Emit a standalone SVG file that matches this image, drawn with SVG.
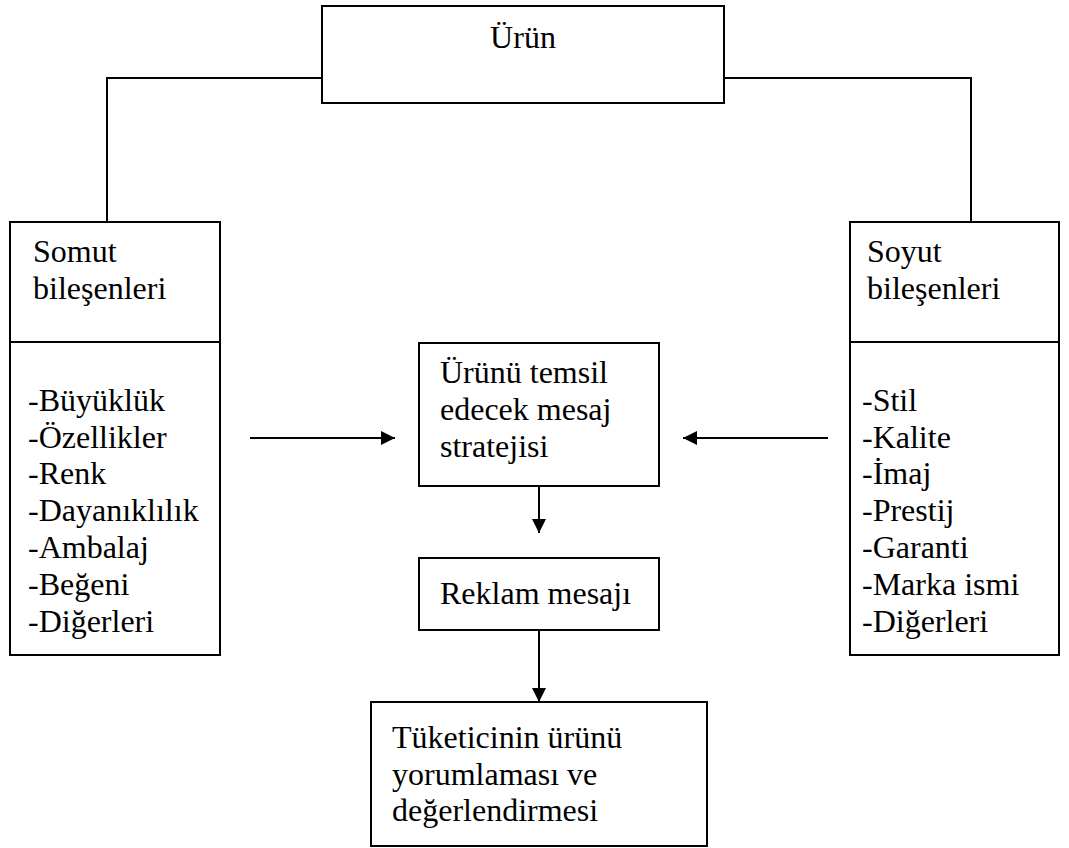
<svg xmlns="http://www.w3.org/2000/svg" width="1069" height="848" viewBox="0 0 1069 848">
<defs>
<marker id="ah" viewBox="0 0 10 10" refX="10" refY="5" markerWidth="15" markerHeight="14" markerUnits="userSpaceOnUse" orient="auto">
<path d="M0,0 L10,5 L0,10 Z" fill="#000"/>
</marker>
<style>
.box{fill:#fff;stroke:#000;stroke-width:2}
.ln{fill:none;stroke:#000;stroke-width:2}
text{font-family:'Liberation Serif',serif;font-size:32px;fill:#000}
</style>
</defs>
<rect width="1069" height="848" fill="#fff"/>
<g id="connectors">
<polyline class="ln" points="322,78 107,78 107,222"/>
<polyline class="ln" points="724,78 971,78 971,222"/>
<line class="ln" x1="250" y1="438" x2="395" y2="438" marker-end="url(#ah)"/>
<line class="ln" x1="828" y1="438" x2="683" y2="438" marker-end="url(#ah)"/>
<line class="ln" x1="539" y1="486" x2="539" y2="533" marker-end="url(#ah)"/>
<line class="ln" x1="539" y1="630" x2="539" y2="702" marker-end="url(#ah)"/>
</g>
<g id="urun">
<rect class="box" x="322" y="6" width="402" height="97"/>
<text x="523" y="48" text-anchor="middle">Ürün</text>
</g>
<g id="somut">
<rect class="box" x="10" y="222" width="210" height="433"/>
<line class="ln" x1="10" y1="342" x2="220" y2="342"/>
<text x="33" y="262">Somut</text>
<text x="33" y="299">bileşenleri</text>
<text x="28" y="411">-Büyüklük</text>
<text x="28" y="448">-Özellikler</text>
<text x="28" y="484">-Renk</text>
<text x="28" y="521">-Dayanıklılık</text>
<text x="28" y="558">-Ambalaj</text>
<text x="28" y="595">-Beğeni</text>
<text x="28" y="632">-Diğerleri</text>
</g>
<g id="soyut">
<rect class="box" x="850" y="222" width="209" height="433"/>
<line class="ln" x1="850" y1="342" x2="1059" y2="342"/>
<text x="867" y="262">Soyut</text>
<text x="867" y="299">bileşenleri</text>
<text x="862" y="411">-Stil</text>
<text x="862" y="448">-Kalite</text>
<text x="862" y="484">-İmaj</text>
<text x="862" y="521">-Prestij</text>
<text x="862" y="558">-Garanti</text>
<text x="862" y="595">-Marka ismi</text>
<text x="862" y="632">-Diğerleri</text>
</g>
<g id="strateji">
<rect class="box" x="419" y="343" width="240" height="143"/>
<text x="440" y="383">Ürünü temsil</text>
<text x="440" y="420">edecek mesaj</text>
<text x="440" y="457">stratejisi</text>
</g>
<g id="reklam">
<rect class="box" x="419" y="558" width="240" height="72"/>
<text x="440" y="604">Reklam mesajı</text>
</g>
<g id="tuketici">
<rect class="box" x="371" y="702" width="336" height="144"/>
<text x="392" y="748">Tüketicinin ürünü</text>
<text x="392" y="785">yorumlaması ve</text>
<text x="392" y="821">değerlendirmesi</text>
</g>
</svg>
